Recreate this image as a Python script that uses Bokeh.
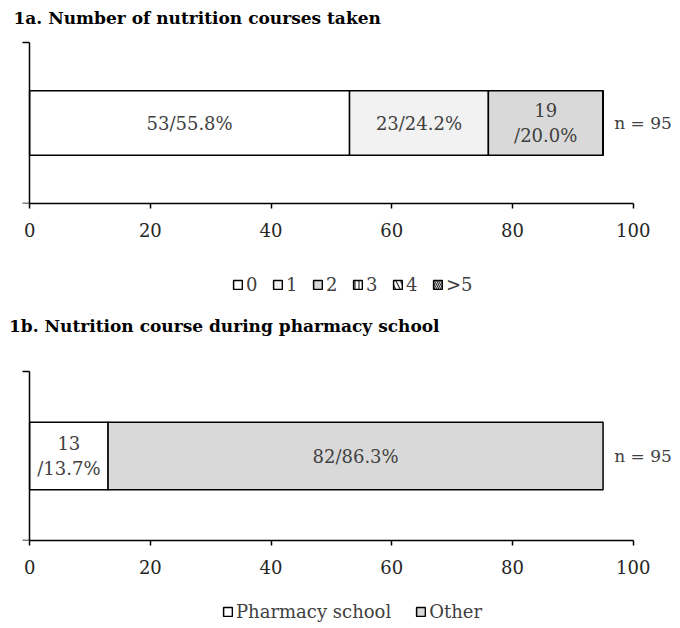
from bokeh.plotting import figure
from bokeh.models import (Range1d, FixedTicker, Legend, LegendItem, ColumnDataSource,
                          CustomJSTickFormatter)
from bokeh.layouts import column
from bokeh.embed import file_html
from bokeh.resources import INLINE
from bokeh.core.properties import value

# ---------------- data ----------------
TITLE_A = "1a. Number of nutrition courses taken"
COURSES = ["0", "1", "2", "3", "4", ">5"]
COURSE_COUNTS = [53, 23, 19, 0, 0, 0]

TITLE_B = "1b. Nutrition course during pharmacy school"
SETTINGS = ["Pharmacy school", "Other"]
SETTING_COUNTS = [13, 82]

X_TICKS = [0, 20, 40, 60, 80, 100]

# ---------------- style ----------------
FONT = "DejaVu Serif"
TEXT_COLOR = "#404040"
COURSE_FILLS = ["white", "#f2f2f2", "#d9d9d9", "white", "white", "white"]
COURSE_HATCH = [" ", " ", " ", "|", "\\", "\\"]
COURSE_HATCH_SCALE = [12, 12, 12, 4, 9, 4]
SETTING_FILLS = ["white", "#d9d9d9"]

FRAME_LEFT = 8              # px, left edge of every frame
X_START, X_END = -3.5, 107  # visible data extent (room for title and "n = ..")
FRAME_W = 667
BAR_STYLE = dict(line_color="black", line_width=1.5, hatch_color="#333333", hatch_weight=1.2)


def chart(title, cats, counts, fills, hatch, hatch_scale, axis_top, axis_bottom,
          title_y, title_x, below):
    total = sum(counts)
    px_per_y = axis_bottom - axis_top
    px_per_x = FRAME_W / (X_END - X_START)
    p = figure(frame_width=FRAME_W, frame_height=axis_bottom, output_backend="svg",
               toolbar_location=None, tools="", y_axis_location="right",
               x_range=Range1d(X_START, X_END), y_range=Range1d(0, axis_bottom / px_per_y),
               min_border_left=FRAME_LEFT, min_border_right=0,
               min_border_top=0, min_border_bottom=below)
    p.outline_line_color = None
    p.grid.visible = False

    xa = p.xaxis[0]
    xa.ticker = FixedTicker(ticks=X_TICKS)
    xa.bounds = (X_TICKS[0], X_TICKS[-1])
    xa.minor_tick_line_color = None
    xa.major_tick_in = 0
    xa.major_tick_out = 5
    xa.axis_line_width = 1.5
    xa.major_tick_line_width = 1.5
    xa.axis_line_color = "black"
    xa.major_tick_line_color = "black"
    xa.major_label_text_font = FONT
    xa.major_label_text_font_size = "18px"
    xa.major_label_text_color = "#262626"
    xa.major_label_standoff = 14

    # vertical axis drawn at x = 0, ticks pointing left, no labels
    ya = p.yaxis[0]
    ya.fixed_location = X_TICKS[0]
    ya.ticker = FixedTicker(ticks=[0, 1])
    ya.bounds = (0, 1)
    ya.formatter = CustomJSTickFormatter(code="return ''")
    ya.minor_tick_line_color = None
    ya.major_tick_in = 7
    ya.major_tick_out = 0
    ya.axis_line_width = 1.5
    ya.major_tick_line_width = 1.5
    ya.axis_line_color = "black"
    ya.major_tick_line_color = "black"
    ya.major_label_standoff = 0

    src = ColumnDataSource(dict(y=[0.5], **{c: [v] for c, v in zip(cats, counts)}))
    p.hbar_stack(cats, y="y", height=0.4, source=src, fill_color=fills,
                 hatch_pattern=hatch, hatch_scale=hatch_scale, **BAR_STYLE)

    # labels inside bar segments
    xs, ts = [], []
    left = 0
    for c in counts:
        if c > 0:
            pct = c / total * 100
            xs.append(left + c / 2)
            ts.append(f"{c}/{pct:.1f}%" if c >= 20 else f"{c}\n/{pct:.1f}%")
        left += c
    p.text(x=xs, y=[0.5] * len(xs), text=ts, text_align="center", text_baseline="middle",
           text_font=value(FONT), text_font_size="18px", text_color=TEXT_COLOR,
           text_line_height=1.15)

    # total n, to the right of the bar
    p.text(x=[total], y=[0.5], x_offset=40, text=[f"n = {total}"],
           text_align="center", text_baseline="middle",
           text_font=value(FONT), text_font_size="17px", text_color=TEXT_COLOR)

    # panel title above the axis
    x0_px = FRAME_LEFT + (0 - X_START) * px_per_x
    p.text(x=[0], y=[1], x_offset=title_x - x0_px, y_offset=-(axis_top - title_y),
           text=[title], text_align="left", text_baseline="middle",
           text_font=value(FONT), text_font_size="17px", text_font_style="bold",
           text_color="black")
    return p


def legend_fig(cats, fills, hatch, hatch_scale, height, x0, center_y, spacing):
    lf = figure(frame_width=FRAME_W, frame_height=height, output_backend="svg",
                toolbar_location=None, tools="", x_range=Range1d(0, 1), y_range=Range1d(0, 1),
                x_axis_type=None, y_axis_type=None, min_border=0,
                min_border_left=FRAME_LEFT)
    lf.outline_line_color = None
    lf.border_fill_color = "white"
    lf.background_fill_color = "white"
    nan = float("nan")
    items = []
    for c, f, h, hs in zip(cats, fills, hatch, hatch_scale):
        # legend swatch renderer (no visible geometry of its own)
        r = lf.hbar(y=[nan], left=[nan], right=[nan], height=0.4, fill_color=f,
                    hatch_pattern=h, hatch_scale=hs, **BAR_STYLE)
        items.append(LegendItem(label=c, renderers=[r]))
    leg_h = 20
    legend = Legend(items=items, orientation="horizontal",
                    location=(x0 - FRAME_LEFT, height - center_y - leg_h / 2),
                    padding=0, margin=0, spacing=spacing,
                    border_line_color=None, background_fill_alpha=0,
                    glyph_width=11, glyph_height=11, label_standoff=3,
                    label_height=leg_h, label_width=20,
                    label_text_font=FONT, label_text_font_size="18px",
                    label_text_color=TEXT_COLOR)
    lf.add_layout(legend, "center")
    return lf


c1 = chart(TITLE_A, COURSES, COURSE_COUNTS, COURSE_FILLS, COURSE_HATCH, COURSE_HATCH_SCALE,
           42, 203, 17.5, 13, 45)
l1 = legend_fig(COURSES, COURSE_FILLS, COURSE_HATCH, COURSE_HATCH_SCALE, 60, 232, 37, 6)
c2 = chart(TITLE_B, SETTINGS, SETTING_COUNTS, SETTING_FILLS, [" ", " "], [12, 12],
           63, 232, 17.7, 8.5, 45)
l2 = legend_fig(SETTINGS, SETTING_FILLS, [" ", " "], [12, 12], 41, 222, 26.7, 24)

layout = column(c1, l1, c2, l2, spacing=0)
open("out.html", "w").write(file_html(layout, INLINE))
